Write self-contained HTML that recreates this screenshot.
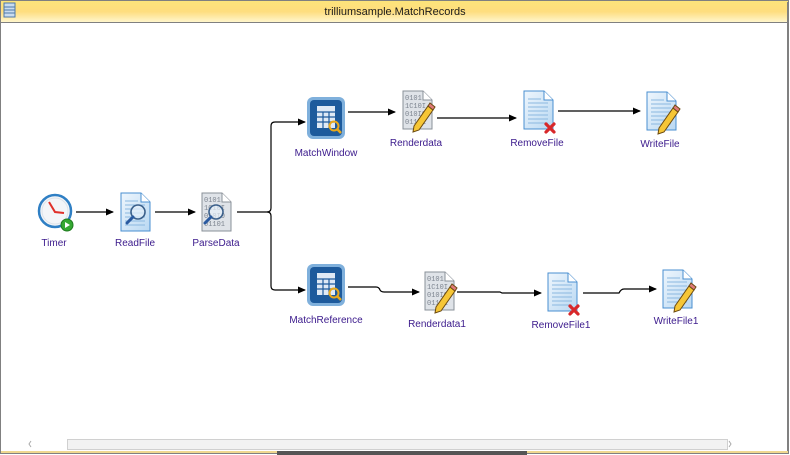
<!DOCTYPE html>
<html><head><meta charset="utf-8"><style>
html,body{margin:0;padding:0;width:790px;height:455px;overflow:hidden;background:#fff}
svg{display:block}
text{font-family:"Liberation Sans",sans-serif;font-size:10px;fill:#3b1a8c;text-anchor:middle}
</style></head><body>
<svg width="790" height="455" viewBox="0 0 790 455" xmlns="http://www.w3.org/2000/svg">
<defs>
<linearGradient id="tb" x1="0" y1="0" x2="0" y2="1">
<stop offset="0" stop-color="#fde47a"/><stop offset="0.5" stop-color="#fedd7e"/><stop offset="1" stop-color="#fff6cc"/></linearGradient>
<linearGradient id="doc" x1="0" y1="0" x2="1" y2="1"><stop offset="0" stop-color="#eef6fd"/><stop offset="1" stop-color="#b9d8f2"/></linearGradient>
<marker id="ar" markerWidth="8" markerHeight="8" refX="7" refY="4" orient="auto" markerUnits="userSpaceOnUse"><path d="M0,0.5 L8,4 L0,7.5 z" fill="#000"/></marker>
<g id="bdoc"><path d="M0,0 h20 l9,9 v29 h-29 z" fill="url(#doc)" stroke="#4a8fd0"/><path d="M20,0 v9 h9" fill="#fff" stroke="#4a8fd0"/>
<g stroke="#8bb8e0" stroke-width="1"><line x1="4" y1="8" x2="17" y2="8"/><line x1="4" y1="12" x2="24" y2="12"/><line x1="4" y1="16" x2="24" y2="16"/><line x1="4" y1="20" x2="24" y2="20"/><line x1="4" y1="24" x2="24" y2="24"/><line x1="4" y1="28" x2="24" y2="28"/><line x1="4" y1="32" x2="24" y2="32"/></g></g>
<g id="gdoc"><path d="M0,0 h20 l9,9 v29 h-29 z" fill="#dfe3e8" stroke="#8a9098"/><path d="M20,0 v9 h9" fill="#fff" stroke="#8a9098"/>
<text x="2" y="9" style="fill:#7d8590;text-anchor:start;font-size:7px;font-family:'Liberation Mono'">0101</text><text x="2" y="17" style="fill:#7d8590;text-anchor:start;font-size:7px;font-family:'Liberation Mono'">1C10I</text><text x="2" y="25" style="fill:#7d8590;text-anchor:start;font-size:7px;font-family:'Liberation Mono'">010I0</text><text x="2" y="33" style="fill:#7d8590;text-anchor:start;font-size:7px;font-family:'Liberation Mono'">01101</text></g>
<g id="pencil"><path d="M0,0 l14,-20 l5,4 l-14,20 l-6,2 z" fill="#f6c636" stroke="#6b4a10" stroke-width="1"/><path d="M14,-20 l5,4 l2,-3 l-5,-4 z" fill="#e07a7a" stroke="#6b4a10"/></g>
<g id="mag"><circle cx="0" cy="0" r="7" fill="rgba(230,240,250,0.7)" stroke="#3a5f8a" stroke-width="1.6"/><line x1="-5" y1="5" x2="-11" y2="11" stroke="#2a5aa0" stroke-width="3" stroke-linecap="round"/></g>
<g id="tbl"><rect x="0" y="0" width="38" height="42" rx="6" fill="#7fb0dc"/><rect x="3" y="3" width="32" height="36" rx="4" fill="#1d5a9c"/>
<rect x="10" y="9" width="18" height="22" fill="#dfe9f5"/><g stroke="#1d5a9c" stroke-width="1.2"><line x1="10" y1="15" x2="28" y2="15"/><line x1="10" y1="20" x2="28" y2="20"/><line x1="10" y1="25" x2="28" y2="25"/><line x1="16" y1="15" x2="16" y2="31"/><line x1="22" y1="15" x2="22" y2="31"/></g>
<circle cx="27" cy="29" r="4.5" fill="none" stroke="#e8a81a" stroke-width="2"/><line x1="30" y1="32" x2="34" y2="36" stroke="#e8a81a" stroke-width="2.5"/></g>
<g id="redx"><path d="M-4,-4 L4,4 M4,-4 L-4,4" stroke="#d8282a" stroke-width="3.2" stroke-linecap="round"/></g>
</defs>

<rect x="0.5" y="0.5" width="788" height="453" fill="#fff" stroke="#808080"/>
<rect x="1" y="1" width="787" height="21" fill="url(#tb)"/>
<line x1="1" y1="22.5" x2="788" y2="22.5" stroke="#808080"/>
<rect x="4" y="3" width="11" height="14" fill="#c9dcef" stroke="#4d78a8"/>
<g stroke="#4d78a8"><line x1="4" y1="7" x2="15" y2="7"/><line x1="4" y1="10" x2="15" y2="10"/><line x1="4" y1="13" x2="15" y2="13"/></g>
<text x="395" y="15" style="fill:#1a1a1a;font-size:11px">trilliumsample.MatchRecords</text>
<rect x="787" y="2" width="2" height="452" fill="#808080"/>
<rect x="67.5" y="439.5" width="660" height="10" fill="#f2f2f2" stroke="#d0d0d0"/>
<path d="M31,441 l-2,3 l2,3" fill="none" stroke="#aaa"/>
<path d="M729,441 l2,3 l-2,3" fill="none" stroke="#aaa"/>
<rect x="1" y="451" width="787" height="2" fill="#f0d890"/>
<rect x="277" y="451" width="250" height="4" fill="#555"/>

<g stroke="#000" stroke-width="1.2" fill="none">
<line x1="76" y1="212" x2="113" y2="212" marker-end="url(#ar)"/>
<line x1="155" y1="212" x2="195" y2="212" marker-end="url(#ar)"/>
<path d="M237,212 H267 q4,0 4,-4 V126 q0,-4 4,-4 H305" marker-end="url(#ar)"/>
<path d="M267,212 q4,0 4,4 V286 q0,4 4,4 H305" marker-end="url(#ar)"/>
<line x1="348" y1="112" x2="395" y2="112" marker-end="url(#ar)"/>
<line x1="437" y1="118" x2="516" y2="118" marker-end="url(#ar)"/>
<line x1="558" y1="111" x2="640" y2="111" marker-end="url(#ar)"/>
<path d="M348,287 H376 q3,0 4,3 q1,2 4,2 H419" marker-end="url(#ar)"/>
<path d="M457,292 H500 L502,293 H541" marker-end="url(#ar)"/>
<path d="M583,293 H619 q2,-4 5,-4 H656" marker-end="url(#ar)"/>
</g>

<circle cx="55" cy="211" r="16" fill="#f3f5f8" stroke="#2f7fc4" stroke-width="2.5"/>
<circle cx="55" cy="211" r="13" fill="none" stroke="#dde3ea"/>
<path d="M49,202 L55,212 L64,213" fill="none" stroke="#e0302a" stroke-width="2"/>
<circle cx="67" cy="225" r="6" fill="#35a832" stroke="#1e7a1e"/>
<path d="M65,222 L70,225 L65,228 z" fill="#fff"/>
<text x="54" y="246">Timer</text>

<use href="#bdoc" x="121" y="193"/>
<use href="#mag" x="138" y="212"/>
<text x="135" y="246">ReadFile</text>

<use href="#gdoc" x="202" y="193"/>
<use href="#mag" x="216" y="212"/>
<text x="216" y="246">ParseData</text>

<use href="#tbl" x="307" y="97"/>
<text x="326" y="156">MatchWindow</text>

<use href="#tbl" x="307" y="264"/>
<text x="326" y="323">MatchReference</text>

<use href="#gdoc" x="403" y="91"/>
<use href="#pencil" x="414" y="126"/>
<text x="416" y="146">Renderdata</text>

<use href="#gdoc" x="425" y="272"/>
<use href="#pencil" x="436" y="307"/>
<text x="437" y="327">Renderdata1</text>

<use href="#bdoc" x="524" y="91"/>
<use href="#redx" x="550" y="128"/>
<text x="537" y="146">RemoveFile</text>

<use href="#bdoc" x="548" y="273"/>
<use href="#redx" x="574" y="310"/>
<text x="561" y="328">RemoveFile1</text>

<use href="#bdoc" x="647" y="92"/>
<use href="#pencil" x="659" y="128"/>
<text x="660" y="147">WriteFile</text>

<use href="#bdoc" x="663" y="270"/>
<use href="#pencil" x="675" y="306"/>
<text x="676" y="324">WriteFile1</text>
</svg>
</body></html>
